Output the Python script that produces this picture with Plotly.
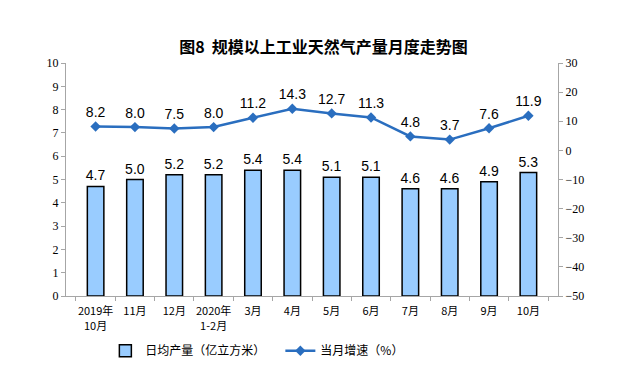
import plotly.graph_objects as go

categories = ["2019年<br>10月", "11月", "12月", "2020年<br>1-2月", "3月", "4月",
              "5月", "6月", "7月", "8月", "9月", "10月"]
daily_output = [4.7, 5.0, 5.2, 5.2, 5.4, 5.4, 5.1, 5.1, 4.6, 4.6, 4.9, 5.3]
growth = [8.2, 8.0, 7.5, 8.0, 11.2, 14.3, 12.7, 11.3, 4.8, 3.7, 7.6, 11.9]
left_ticks = list(range(0, 11))
right_ticks = list(range(-50, 31, 10))

serif = "Liberation Serif, DejaVu Serif, serif"
sans = "Liberation Sans, Arial, sans-serif"
cjk = "Noto Sans CJK SC, sans-serif"

# The page body has an 8px default margin, so the figure is drawn 8px in from
# the window's top-left corner; the sizes below compensate for that offset.
W, H = 631, 384

fig = go.Figure()
fig.add_trace(go.Bar(
    x=categories, y=daily_output, name="日均产量（亿立方米）",
    marker=dict(color="#99CCFF", line=dict(color="#000000", width=1.5)),
    width=0.42,
    text=[f"{v:.1f}" for v in daily_output], textposition="outside",
    constraintext="none",
    textfont=dict(family=sans, size=14, color="#000000"),
    cliponaxis=False,
))
fig.add_trace(go.Scatter(
    x=categories, y=growth, name="当月增速（%）", yaxis="y2",
    mode="lines+markers+text",
    line=dict(color="#2A6EBF", width=2.5),
    marker=dict(symbol="diamond", size=8, color="#2A6EBF"),
    text=[f"{v:.1f}" for v in growth], textposition="top center",
    textfont=dict(family=sans, size=14, color="#000000"),
    cliponaxis=False,
))

fig.update_layout(
    width=W, height=H,
    margin=dict(l=58, r=81, t=55, b=96, autoexpand=False),
    paper_bgcolor="white", plot_bgcolor="white",
    title=dict(text="<b>图8  规模以上工业天然气产量月度走势图</b>", x=0.5, xanchor="center",
               y=1 - 39 / H, yanchor="middle",
               font=dict(family=cjk, size=16, color="#000000")),
    showlegend=True,
    legend=dict(orientation="h", x=0.080, xanchor="left", y=-0.235, yanchor="middle",
                font=dict(family=cjk, size=12, color="#000000"),
                entrywidth=130, entrywidthmode="pixels",
                traceorder="normal", bgcolor="rgba(0,0,0,0)"),
    bargap=0.58,
    xaxis=dict(type="category", showline=True, linecolor="#A6A6A6", linewidth=1,
               ticks="outside", tickcolor="#A6A6A6", ticklen=4,
               tickson="boundaries", tickangle=0, automargin=False,
               ticklabelstandoff=5,
               tickfont=dict(family=cjk, size=11, color="#000000"),
               showgrid=False, zeroline=False),
    yaxis=dict(range=[0, 10], tickvals=left_ticks, showline=True, linecolor="#A6A6A6",
               linewidth=1, ticks="outside", tickcolor="#A6A6A6", ticklen=4,
               automargin=False,
               tickfont=dict(family=serif, size=12, color="#000000"),
               showgrid=False, zeroline=False),
    yaxis2=dict(range=[-50, 30], tickvals=right_ticks, overlaying="y", side="right",
                showline=True, linecolor="#A6A6A6", linewidth=1, ticks="outside",
                tickcolor="#A6A6A6", ticklen=4, automargin=False,
                tickfont=dict(family=serif, size=12, color="#000000"),
                showgrid=False, zeroline=False),
)

fig.write_html("out.html")
